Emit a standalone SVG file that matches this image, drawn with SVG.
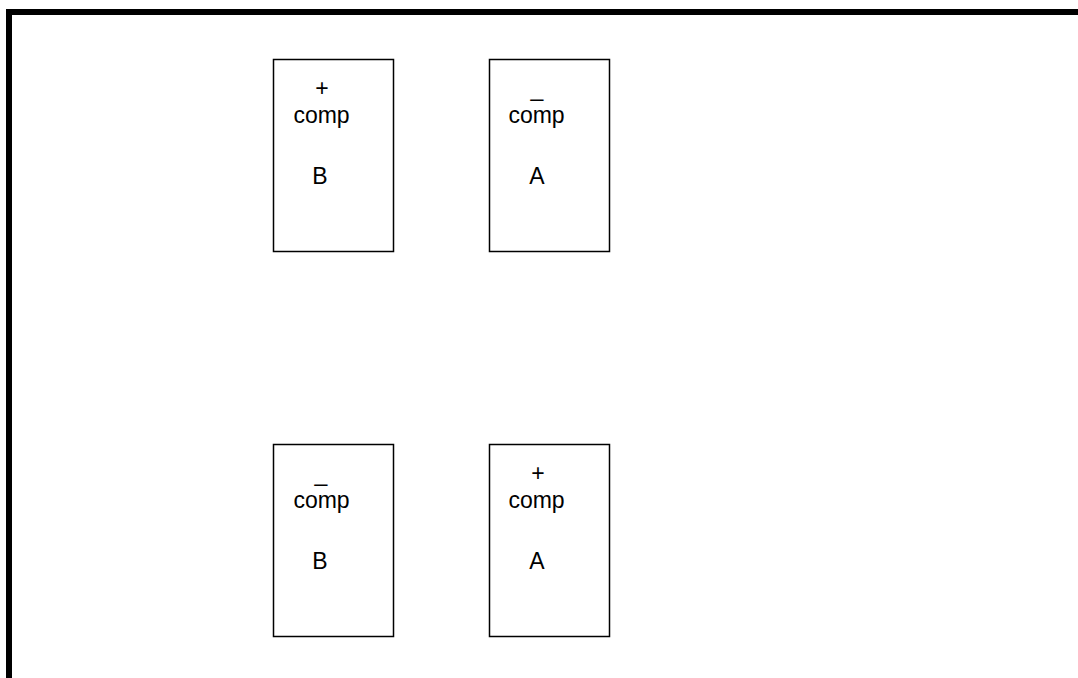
<svg xmlns="http://www.w3.org/2000/svg" width="1078" height="678" viewBox="0 0 1078 678">
<style>
.box{fill:#fff;stroke:#000;stroke-width:1.5}
.t{font-family:"Liberation Sans",Arial,sans-serif;font-size:23px;fill:#000;text-anchor:middle}
</style>
<rect width="1078" height="678" fill="#fff"/>
<path d="M9,678 V12 H1078" fill="none" stroke="#000" stroke-width="6"/>
<g id="n1">
<rect class="box" x="273.5" y="59.5" width="120" height="192"/>
<text class="t" x="322" y="96">+</text>
<text class="t" x="321.5" y="123">comp</text>
<text class="t" x="320" y="184">B</text>
</g>
<g id="n2">
<rect class="box" x="489.5" y="59.5" width="120" height="192"/>
<text class="t" x="537" y="96">_</text>
<text class="t" x="536.5" y="123">comp</text>
<text class="t" x="537" y="184">A</text>
</g>
<g id="n3">
<rect class="box" x="273.5" y="444.5" width="120" height="192"/>
<text class="t" x="321" y="481">_</text>
<text class="t" x="321.5" y="508">comp</text>
<text class="t" x="320" y="569">B</text>
</g>
<g id="n4">
<rect class="box" x="489.5" y="444.5" width="120" height="192"/>
<text class="t" x="538" y="481">+</text>
<text class="t" x="536.5" y="508">comp</text>
<text class="t" x="537" y="569">A</text>
</g>
<g id="connectors"></g>
</svg>
